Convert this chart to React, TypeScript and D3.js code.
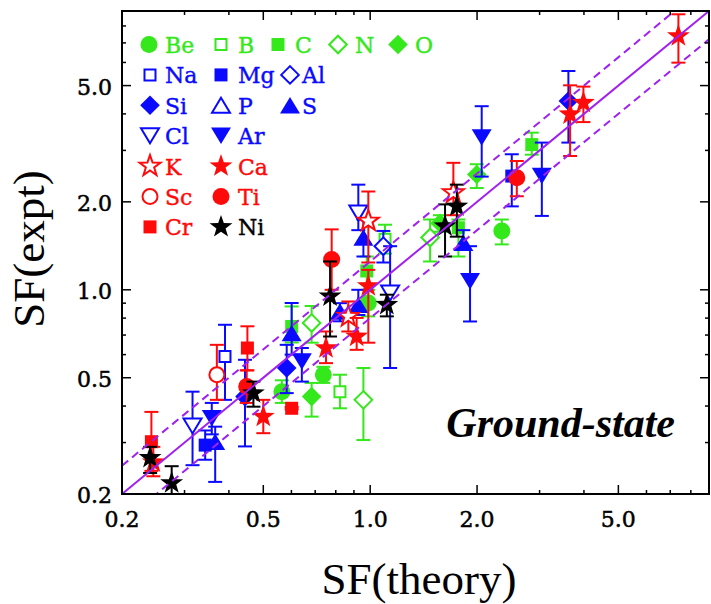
import React from 'react';
import * as d3 from 'd3';

// ---------- data ----------
const tickValues = [0.2, 0.5, 1.0, 2.0, 5.0];
const tickLabels = ['0.2', '0.5', '1.0', '2.0', '5.0'];
const minorValues = [0.3, 0.4, 0.6, 0.7, 0.8, 0.9, 3, 4, 6, 7, 8];

// each point: [SF(theory), SF(expt), expt low, expt high]
const Be = [[0.564, 0.448, 0.41, 0.49], [0.738, 0.512, 0.48, 0.545], [0.988, 0.901, 0.811, 1.0], [2.348, 1.59, 1.43, 1.74]];
const B = [[0.822, 0.448, 0.393, 0.512], [1.101, 1.49, 1.33, 1.67]];
const C = [[0.601, 0.749, 0.66, 0.877], [0.978, 1.16, 1.05, 1.3], [2.852, 3.14, 2.9, 3.45], [1.772, 1.63, 1.3, 1.74]];
const N = [[0.957, 0.42, 0.306, 0.54], [0.684, 0.77, 0.659, 0.88], [1.475, 1.51, 1.25, 1.74]];
const O = [[0.684, 0.431, 0.368, 0.48], [1.996, 2.48, 2.23, 2.69], [1.573, 1.69, 1.58, 1.8]];
const Na = [[0.39, 0.591, 0.42, 0.759]];
const Mg = [[0.343, 0.294, 0.262, 0.33], [2.505, 2.45, 1.93, 2.91]];
const Al = [[1.089, 1.41, 1.24, 1.59]];
const Si = [[0.444, 0.431, 0.291, 0.576], [0.582, 0.54, 0.443, 0.648], [3.616, 4.43, 3.19, 5.61]];
const P: number[][] = [];
const S = [[0.366, 0.302, 0.22, 0.34], [0.601, 0.711, 0.6, 0.901], [0.822, 0.843, 0.78, 0.9], [0.926, 0.889, 0.82, 1.0], [0.957, 1.51, 1.3, 1.74], [1.83, 1.45, 1.4, 1.6]];
const Cl = [[0.316, 0.342, 0.251, 0.448], [1.138, 0.975, 0.54, 1.41], [0.926, 1.83, 1.6, 2.29]];
const Ar = [[0.358, 0.363, 0.32, 0.41], [0.642, 0.568, 0.485, 0.632], [1.911, 1.07, 0.779, 1.41], [2.061, 3.32, 2.44, 4.25], [3.044, 2.45, 1.79, 3.19]];
const K = [[0.868, 0.811, 0.72, 0.912], [0.988, 1.72, 1.24, 2.17], [1.715, 2.15, 1.8, 2.72]];
const Ca = [[0.245, 0.257, 0.23, 0.29], [0.5, 0.368, 0.323, 0.42], [0.751, 0.632, 0.561, 0.72], [0.916, 0.692, 0.623, 0.801], [0.988, 1.03, 0.659, 1.17], [3.656, 3.99, 2.87, 5.01], [3.986, 4.37, 3.75, 4.96], [7.38, 7.39, 5.99, 8.77]];
const Sc = [[0.37, 0.512, 0.42, 0.648]];
const Ti = [[0.449, 0.467, 0.41, 0.53], [0.779, 1.27, 1.0, 1.61], [2.588, 2.42, 2.09, 2.76]];
const Cr = [[0.242, 0.302, 0.24, 0.382], [0.451, 0.632, 0.53, 0.75], [0.601, 0.393, 0.39, 0.397]];
const Ni = [[0.24, 0.266, 0.236, 0.29], [0.276, 0.218, 0.2, 0.249], [0.469, 0.443, 0.398, 0.485], [0.771, 0.95, 0.692, 1.25], [1.114, 0.889, 0.811, 0.962], [1.754, 1.93, 1.52, 2.29], [1.625, 1.65, 1.3, 1.96]];

const bandFactors = [1.25, 0.8];

// ---------- styling ----------
const GREEN = '#35e81c';
const BLUE = '#0a0aff';
const RED = '#ff0a0a';
const BLACK = '#000000';
const PURPLE = '#a020f0';

type Elem = { name: string; color: string; shape: string; filled: boolean; data: number[][] };
const elements: Elem[] = [
  { name: 'Be', color: GREEN, shape: 'circle', filled: true, data: Be },
  { name: 'B', color: GREEN, shape: 'square', filled: false, data: B },
  { name: 'C', color: GREEN, shape: 'square', filled: true, data: C },
  { name: 'N', color: GREEN, shape: 'diamond', filled: false, data: N },
  { name: 'O', color: GREEN, shape: 'diamond', filled: true, data: O },
  { name: 'Na', color: BLUE, shape: 'square', filled: false, data: Na },
  { name: 'Mg', color: BLUE, shape: 'square', filled: true, data: Mg },
  { name: 'Al', color: BLUE, shape: 'diamond', filled: false, data: Al },
  { name: 'Si', color: BLUE, shape: 'diamond', filled: true, data: Si },
  { name: 'P', color: BLUE, shape: 'triUp', filled: false, data: P },
  { name: 'S', color: BLUE, shape: 'triUp', filled: true, data: S },
  { name: 'Cl', color: BLUE, shape: 'triDown', filled: false, data: Cl },
  { name: 'Ar', color: BLUE, shape: 'triDown', filled: true, data: Ar },
  { name: 'K', color: RED, shape: 'star', filled: false, data: K },
  { name: 'Ca', color: RED, shape: 'star', filled: true, data: Ca },
  { name: 'Sc', color: RED, shape: 'circle', filled: false, data: Sc },
  { name: 'Ti', color: RED, shape: 'circle', filled: true, data: Ti },
  { name: 'Cr', color: RED, shape: 'square', filled: true, data: Cr },
  { name: 'Ni', color: BLACK, shape: 'star', filled: true, data: Ni },
];

const legendRows = [['Be', 'B', 'C', 'N', 'O'], ['Na', 'Mg', 'Al'], ['Si', 'P', 'S'], ['Cl', 'Ar'], ['K', 'Ca'], ['Sc', 'Ti'], ['Cr', 'Ni']];
const legendMarkerX0 = [149, 221, 278, 338, 398];
const legendTextX0 = [165, 238, 295, 355, 415];
const legendMarkerX = [150, 221, 290];
const legendTextX = [165, 238, 302];

const PL = 122, PR = 709, PT = 11, PB = 494;

function shapePath(shape: string, filled: boolean): string {
  const o = filled ? 0 : 1;
  if (shape === 'circle') {
    const r = 8.5 - o;
    return `M${-r},0A${r},${r} 0 1,0 ${r},0A${r},${r} 0 1,0 ${-r},0Z`;
  }
  if (shape === 'square') {
    const s = filled ? 13 : 11;
    return `M${-s / 2},${-s / 2}h${s}v${s}h${-s}Z`;
  }
  if (shape === 'diamond') {
    const h = 9.8 - o;
    return `M0,${-h}L${h},0L0,${h}L${-h},0Z`;
  }
  if (shape === 'triUp' || shape === 'triDown') {
    const w = 20 - 2 * o, hh = 16.5 - 1.5 * o;
    const sgn = shape === 'triUp' ? 1 : -1;
    return `M0,${(-hh / 2) * sgn}L${w / 2},${(hh / 2) * sgn}L${-w / 2},${(hh / 2) * sgn}Z`;
  }
  // star
  const R = 12 - o, r = R * 0.4;
  const pts: string[] = [];
  for (let k = 0; k < 10; k++) {
    const a = -Math.PI / 2 + (k * Math.PI) / 5;
    const rr = k % 2 === 0 ? R : r;
    pts.push(`${(rr * Math.cos(a)).toFixed(2)},${(rr * Math.sin(a)).toFixed(2)}`);
  }
  return 'M' + pts.join('L') + 'Z';
}

function Marker({ x, y, el }: { x: number; y: number; el: Elem }) {
  return (
    <path
      d={shapePath(el.shape, el.filled)}
      transform={`translate(${x},${y})`}
      fill={el.filled ? el.color : '#ffffff'}
      stroke={el.color}
      strokeWidth={el.filled ? 0 : 2}
      strokeLinejoin="miter"
    />
  );
}

export default function App() {
  const x = d3.scaleLog().domain([0.2, 9]).range([PL, PR]);
  const y = d3.scaleLog().domain([0.2, 9]).range([PB, PT]);
  const lineGen = d3.line<number[]>().x(d => x(d[0])).y(d => y(d[1]));
  const xs = [0.2, 9];
  const byName: Record<string, Elem> = {};
  elements.forEach(e => (byName[e.name] = e));
  const cap = 7;
  const tickFont = "'DejaVu Serif', serif";

  return (
    <svg width={711} height={604} style={{ position: 'absolute', left: 0, top: 0, background: '#fff' }}>
      <defs>
        <clipPath id="plotclip">
          <rect x={PL} y={PT} width={PR - PL} height={PB - PT} />
        </clipPath>
      </defs>
      <rect x={0} y={0} width={711} height={604} fill="#fff" />

      {/* data */}
      <g clipPath="url(#plotclip)">
        {elements.map(el => (
          <g key={el.name}>
            {el.data.map((d, i) => (
              <g key={i} stroke={el.color} strokeWidth={2} fill="none">
                <line x1={x(d[0])} x2={x(d[0])} y1={y(d[2])} y2={y(d[3])} />
                <line x1={x(d[0]) - cap} x2={x(d[0]) + cap} y1={y(d[2])} y2={y(d[2])} />
                <line x1={x(d[0]) - cap} x2={x(d[0]) + cap} y1={y(d[3])} y2={y(d[3])} />
              </g>
            ))}
            {el.data.map((d, i) => (
              <Marker key={'m' + i} x={x(d[0])} y={y(d[1])} el={el} />
            ))}
          </g>
        ))}
        <path d={lineGen(xs.map(v => [v, v])) || ''} stroke={PURPLE} strokeWidth={2} fill="none" />
        {bandFactors.map(f => (
          <path key={f} d={lineGen(xs.map(v => [v, v * f])) || ''} stroke={PURPLE} strokeWidth={2} strokeDasharray="8,5" fill="none" />
        ))}
      </g>

      {/* frame */}
      <rect x={PL} y={PT} width={PR - PL} height={PB - PT} fill="none" stroke="#000" strokeWidth={2} />
      <g stroke="#000" strokeWidth={1.5}>
        {tickValues.map(v => (
          <g key={'M' + v}>
            <line x1={x(v)} x2={x(v)} y1={PB} y2={PB - 9} />
            <line x1={x(v)} x2={x(v)} y1={PT} y2={PT + 9} />
            <line x1={PL} x2={PL + 9} y1={y(v)} y2={y(v)} />
            <line x1={PR} x2={PR - 9} y1={y(v)} y2={y(v)} />
          </g>
        ))}
        {minorValues.map(v => (
          <g key={'m' + v}>
            <line x1={x(v)} x2={x(v)} y1={PB} y2={PB - 4} />
            <line x1={x(v)} x2={x(v)} y1={PT} y2={PT + 4} />
            <line x1={PL} x2={PL + 4} y1={y(v)} y2={y(v)} />
            <line x1={PR} x2={PR - 4} y1={y(v)} y2={y(v)} />
          </g>
        ))}
      </g>
      <g fontFamily={tickFont} fontSize={22} fill="#000" stroke="#000" strokeWidth={0.5}>
        {tickValues.map((v, i) => (
          <text key={'xl' + v} x={x(v)} y={527} textAnchor="middle">{tickLabels[i]}</text>
        ))}
        {tickValues.map((v, i) => (
          <text key={'yl' + v} x={112} y={y(v) + 9} textAnchor="end">{tickLabels[i]}</text>
        ))}
      </g>

      {/* legend */}
      <g fontFamily={tickFont} fontSize={22}>
        {legendRows.map((row, ri) =>
          row.map((name, ci) => {
            const el = byName[name];
            const cy = 44.5 + ri * 30.4;
            const mx = ri === 0 ? legendMarkerX0[ci] : legendMarkerX[ci];
            const tx = ri === 0 ? legendTextX0[ci] : legendTextX[ci];
            return (
              <g key={name}>
                <Marker x={mx} y={cy} el={el} />
                <text x={tx} y={cy + 8.5} fill={el.color} stroke={el.color} strokeWidth={0.4}>{el.name}</text>
              </g>
            );
          })
        )}
      </g>

      <text x={675} y={437} textAnchor="end" fontFamily="'Liberation Serif', serif" fontWeight="bold" fontStyle="italic" fontSize={42} fill="#000">Ground-state</text>

      <text x={419} y={594} textAnchor="middle" fontFamily="'Liberation Serif', serif" fontSize={45} fill="#000">SF(theory)</text>
      <text transform="translate(44,249) rotate(-90)" textAnchor="middle" fontFamily="'Liberation Serif', serif" fontSize={45} fill="#000">SF(expt)</text>
    </svg>
  );
}
